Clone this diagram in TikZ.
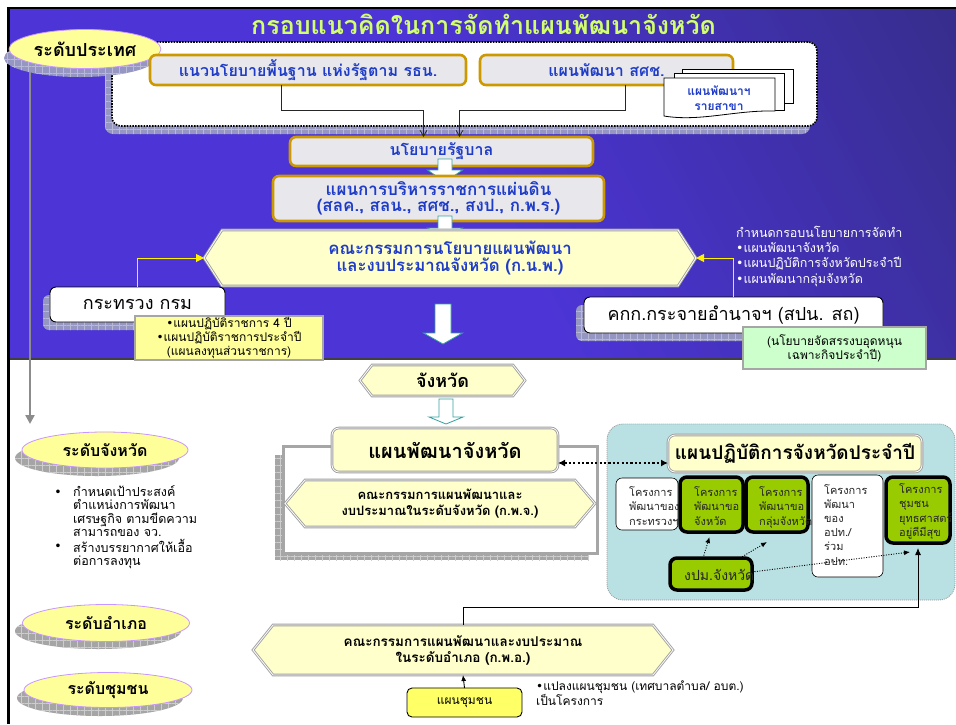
\documentclass[tikz,border=0pt]{standalone}
\usepackage{fontspec}
\setmainfont[Script=Thai]{Loma}
\newfontfamily\dv{DejaVu Sans}
\usetikzlibrary{arrows.meta,patterns.meta,shapes.geometric}
\newcommand\fs[2]{\fontsize{#1}{#2}\selectfont}
\newcommand\bul{{\dv •}}
\definecolor{bgA}{RGB}{76,52,214}
\definecolor{bgB}{RGB}{44,42,104}
\definecolor{ttl}{RGB}{210,255,110}
\definecolor{pblue}{RGB}{30,60,200}
\definecolor{gold}{RGB}{204,153,0}
\definecolor{lgray}{RGB}{232,232,236}
\definecolor{cream}{RGB}{255,255,204}
\definecolor{lyel}{RGB}{255,255,153}
\definecolor{yel}{RGB}{255,255,102}
\definecolor{lgreen}{RGB}{204,255,204}
\definecolor{grn}{RGB}{153,204,0}
\definecolor{tealbg}{RGB}{185,225,227}
\definecolor{tealL}{RGB}{51,160,160}
\definecolor{vio}{RGB}{200,150,255}
\definecolor{shB}{RGB}{150,150,195}
\definecolor{shBL}{RGB}{185,185,215}
\definecolor{shG}{RGB}{165,165,165}
\definecolor{shGL}{RGB}{205,205,205}
\pgfdeclarehorizontalshading{bluebg}{100bp}{color(0bp)=(bgA); color(50bp)=(bgA); color(100bp)=(bgB)}
\newcommand\bx[7][]{\node[inner sep=0pt, outer sep=0pt, minimum width={#5-#3}, minimum height={#6-#4}, align=center, #1] (#2) at ({(#3+#5)/2},{(#4+#6)/2}) {#7};}
\newcommand\hexb[8][]{%
  \draw[hexline] (#3,{(#4+#6)/2}) -- ({#3+#7},#4) -- ({#5-#7},#4) -- (#5,{(#4+#6)/2}) -- ({#5-#7},#6) -- ({#3+#7},#6) -- cycle;
  \node[inner sep=0pt, outer sep=0pt, minimum width={#5-#3}, minimum height={#6-#4}, align=center, #1] (#2) at ({(#3+#5)/2},{(#4+#6)/2}) {#8};}
\newcommand\barrow[7][]{\draw[blockarrow,#1] ({#2-#5/2},#3) -- ({#2+#5/2},#3) -- ({#2+#5/2},#7) -- ({#2+#6/2},#7) -- (#2,#4) -- ({#2-#6/2},#7) -- ({#2-#5/2},#7) -- cycle;}
\newcommand\shd[5][]{\path[#1] (#2,#3) rectangle (#4,#5);}
\begin{document}
\begin{tikzpicture}[x=1pt,y=-1pt,
  shadowB/.style={fill=shB, postaction={pattern={Hatch[angle=0,distance=7pt,line width=0.5pt]}, pattern color=shBL}},
  shadowG/.style={fill=shG, postaction={pattern={Hatch[angle=0,distance=7pt,line width=0.5pt]}, pattern color=shGL}},
  pbox/.style={fill=lgray, draw=gold, line width=2.6pt, rounded corners=6pt, text=pblue, font=\bfseries\fs{16}{17}},
  hexline/.style={fill=cream, draw=gray!75, double=white, double distance=0.8pt, line width=0.9pt},
  ybox/.style={fill=cream, draw=gray!75, double=white, double distance=0.8pt, line width=0.9pt, rounded corners=7pt},
  wbox/.style={fill=white, draw=black, line width=0.9pt, rounded corners=6pt},
  sbox/.style={fill=white, draw=black, line width=0.6pt, rounded corners=6pt},
  gbox/.style={fill=grn, draw=black, line width=3.5pt, rounded corners=7pt},
  note/.style={draw=gray!70, line width=1.5pt, font=\fs{12}{14}},
  lvl/.style={ellipse, fill=lyel, draw=vio, line width=0.8pt, inner sep=0pt},
  blockarrow/.style={fill=white, draw=tealL, line width=0.8pt},
  conn/.style={draw=black!85, line width=0.8pt, -{Straight Barb[length=6pt,width=7pt]}},
  yline/.style={draw=yellow, line width=1pt, -{Triangle[length=8pt,width=8pt]}},
  dline/.style={draw=black, line width=2.2pt, dash pattern=on 2.2pt off 2.2pt, {Latex[length=7pt,width=7pt]}-{Latex[length=7pt,width=7pt]}},
  tline/.style={draw=black, line width=0.9pt, dash pattern=on 1pt off 1.5pt, -{Latex[length=6pt,width=5pt]}},
  sline/.style={draw=black, line width=0.9pt, -{Latex[length=7pt,width=6pt]}},
  small/.style={anchor=north west, inner sep=0pt, align=left, font=\fs{11}{14.5}, text=black!85}
]
\useasboundingbox (0,0) rectangle (956,724);
\fill[white] (0,0) rectangle (956,724);
\shade[shading=bluebg, shading angle=28] (8,8) rectangle (956,359);
\draw[line width=1.5pt, black!75] (8,359) -- (956,359);
\draw[line width=2.5pt] (6.75,8) -- (956,8);
\draw[line width=3pt] (8,6.75) -- (8,724);

% title
\node[font=\bfseries\fs{25}{27}, text=ttl] (ttl) at (483.5,24.5) {กรอบแนวคิดในการจัดทำแผนพัฒนาจังหวัด};

% national box
\shd[shadowB, rounded corners=8pt]{105}{50}{810}{134}
\bx[fill=white, draw=black, line width=1.6pt, dash pattern=on 1.6pt off 1.2pt, rounded corners=9pt]{natbox}{112}{42}{817}{126}{}

% grey level arrow
\coordinate (gtop) at (30,62);
\coordinate (gend) at (30,424);
\draw[draw=gray!90, line width=2.5pt, -{Triangle[length=9pt,width=9pt]}] (gtop) -- (gend);

\path[shadowB] (80,58) ellipse [x radius=76pt, y radius=19pt];
\node[lvl, minimum width=152pt, minimum height=39pt, font=\bfseries\fs{18}{19}] (l1) at (85,49) {ระดับประเทศ};

\bx[pbox]{nb1}{150}{55}{466}{85}{แนวนโยบายพื้นฐาน แห่งรัฐตาม รธน.}
\bx[pbox]{nb2}{480}{55}{733}{85}{แผนพัฒนา สศช.}

% stacked documents
\draw[fill=white, line width=0.8pt] (682,69) rectangle (793,103);
\draw[fill=white, line width=0.8pt] (674,73) rectangle (784,110);
\draw[fill=white, line width=0.8pt] (664,78) -- (775,78) -- (775,111) .. controls (735,110) and (700,122) .. (664,116) -- cycle;
\node[align=center, text=pblue, font=\bfseries\fs{12}{15}, inner sep=0pt] (docs) at (719,98) {แผนพัฒนาฯ\\รายสาขา};

% central column
\bx[pbox]{gov}{290}{137}{593}{166}{นโยบายรัฐบาล}
\draw[conn] ([xshift=-27pt]nb1.south) -- ++(0,25) -| ([xshift=-18pt]gov.north);
\draw[conn] ([xshift=18.5pt]nb2.south) -- ++(0,25) -| ([xshift=18pt]gov.north);
\barrow{445}{159}{182}{14}{35}{170}
\bx[pbox, font=\bfseries\fs{17}{16.5}]{plan}{273}{176}{604}{221}{แผนการบริหารราชการแผ่นดิน\\(สลค., สลน., สศช., สงป., ก.พ.ร.)}
\barrow{445}{216}{240}{14}{35}{228}
\hexb[text=pblue, font=\bfseries\fs{16.8}{17}]{knp}{204}{230}{696}{286}{18}{คณะกรรมการนโยบายแผนพัฒนา\\และงบประมาณจังหวัด (ก.น.พ.)}

% ministry
\shd[shadowB, rounded corners=6pt]{43}{295}{218}{330}
\bx[wbox, font=\fs{18}{20}]{min}{50}{287}{225}{322}{กระทรวง กรม}
\draw[yline] (min.north) |- (knp.west);
\bx[note, fill=lyel]{n1}{135}{316}{323}{360}{\bul แผนปฏิบัติราชการ 4 ปี\\\bul แผนปฏิบัติราชการประจำปี\\(แผนลงทุนส่วนราชการ)}

% decentralisation committee
\node[anchor=north west, inner sep=0pt, align=left, text=white, font=\fs{12.5}{15.2}] (rt) at (736,226) {กำหนดกรอบนโยบายการจัดทำ\\\bul แผนพัฒนาจังหวัด\\\bul แผนปฏิบัติการจังหวัดประจำปี\\\bul แผนพัฒนากลุ่มจังหวัด};
\shd[shadowB, rounded corners=6pt]{576}{305}{875}{341}
\bx[wbox, font=\fs{18}{20}]{kkk}{584}{297}{883}{333}{คกก.กระจายอำนาจฯ (สปน. สถ)}
\draw[yline] (kkk.north) |- (knp.east);
\bx[note, fill=lgreen]{n2}{743}{327}{926}{369}{(นโยบายจัดสรรงบอุดหนุน\\เฉพาะกิจประจำปี)}

\barrow{443}{304}{344}{16}{39}{333}

% province
\hexb[font=\bfseries\fs{18}{20}]{prov}{360}{365}{525}{396}{12}{จังหวัด}
\barrow{446}{399}{424}{14}{34}{417}

% level ellipses
\path[shadowG] (97,458) ellipse [x radius=82pt, y radius=18pt];
\node[lvl, minimum width=166pt, minimum height=36pt, font=\bfseries\fs{16}{17}] (l2) at (105,450) {ระดับจังหวัด};
\path[shadowG] (98,631) ellipse [x radius=83pt, y radius=18pt];
\node[lvl, minimum width=167pt, minimum height=37pt, font=\bfseries\fs{16}{17}] (l3) at (106,623) {ระดับอำเภอ};
\path[shadowG] (100,698) ellipse [x radius=83pt, y radius=18pt];
\node[lvl, minimum width=168pt, minimum height=35pt, font=\bfseries\fs{16}{17}] (l4) at (108,690) {ระดับชุมชน};

\node[inner sep=0pt, font=\fs{12.5}{13.5}] (b1) at (58,493) {\bul};
\node[anchor=north west, inner sep=0pt, align=left, font=\fs{12.5}{13.5}] (t1) at (73,485) {กำหนดเป้าประสงค์\\ตำแหน่งการพัฒนา\\เศรษฐกิจ ตามขีดความ\\สามารถของ จว.};
\node[inner sep=0pt, font=\fs{12.5}{13.5}] (b2) at (58,547) {\bul};
\node[anchor=north west, inner sep=0pt, align=left, font=\fs{12.5}{13.5}] (t2) at (73,539) {สร้างบรรยากาศให้เอื้อ\\ต่อการลงทุน};

% provincial development plan frame
\shd[shadowG]{275}{455}{589}{560}
\draw[line width=3pt, draw=gray!70, fill=white] (283,446) rectangle (597,553);
\bx[ybox, font=\bfseries\fs{20}{22}]{pdp}{332}{428}{558}{472}{แผนพัฒนาจังหวัด}
\hexb[font=\bfseries\fs{13}{16}]{kpj}{285}{480}{595}{527}{20}{คณะกรรมการแผนพัฒนาและ\\งบประมาณในระดับจังหวัด (ก.พ.จ.)}

% annual operation plan region
\draw[fill=tealbg, draw=gray!80, line width=0.8pt, dash pattern=on 1pt off 1pt, rounded corners=16pt] (607,424) rectangle (955,600);
\bx[ybox, font=\bfseries\fs{19}{21}]{ops}{668}{435}{922}{472}{แผนปฏิบัติการจังหวัดประจำปี}
\coordinate (d1) at ([yshift=-13pt]pdp.east);
\draw[dline] (d1) -- (d1 -| ops.west);

\bx[sbox]{p1}{616}{478}{678}{530}{}
\node[small] (p1t) at (629,486) {โครงการ\\พัฒนาของ\\กระทรวงฯ};
\bx[gbox]{p2}{680}{477}{743}{532}{}
\node[small] (p2t) at (694,486) {โครงการ\\พัฒนาขอ\\จังหวัด};
\bx[gbox]{p3}{746}{477}{808}{532}{}
\node[small] (p3t) at (759,486) {โครงการ\\พัฒนาขอ\\กลุ่มจังหวัด};
\bx[sbox]{p4}{812}{475}{883}{577}{}
\node[small, font=\fs{11}{14.2}] (p4t) at (824,484) {โครงการ\\พัฒนา\\ของ\\อปท./\\ร่วม\\อปท.};
\bx[gbox]{p5}{886}{477}{950}{543}{}
\node[small] (p5t) at (899,483) {โครงการ\\ชุมชน\\ยุทธศาสตร์\\อยู่ดีมีสุข};
\bx[gbox]{p6}{670}{558}{752}{590}{}
\node[anchor=west, inner sep=0pt, font=\fs{14}{16}, text=black!85] (p6t) at (684,575) {งปม.จังหวัด};
\draw[tline] ([xshift=-8pt]p6.north) -- ([xshift=-2pt,yshift=-5pt]p2.south);
\draw[tline] ([xshift=29pt]p6.north) -- ([xshift=-10pt,yshift=-10pt]p3.south);
\draw[tline] ([yshift=2pt]p6.east) -- ([xshift=-8pt,yshift=-9pt]p5.south);

% district level
\hexb[font=\bfseries\fs{13.5}{16}]{kpa}{253}{625}{673}{675}{20}{คณะกรรมการแผนพัฒนาและงบประมาณ\\ในระดับอำเภอ (ก.พ.อ.)}
\coordinate (c1) at (918,607);
\draw[sline] (kpa.north) |- (c1) -- ([yshift=-5pt]p5.south);
\bx[fill=yel, draw=black, line width=0.9pt, rounded corners=5pt, font=\fs{12}{14}]{cp}{407}{688}{522}{717}{แผนชุมชน}
\draw[draw=black, line width=0.9pt, -{Latex[length=6pt,width=5pt]}] (cp.north) -- (kpa.south);
\node[anchor=north west, inner sep=0pt, align=left, font=\fs{12}{15}] (cpt) at (536,681) {\bul แปลงแผนชุมชน (เทศบาลตำบล/ อบต.)\\เป็นโครงการ};
\end{tikzpicture}
\end{document}
